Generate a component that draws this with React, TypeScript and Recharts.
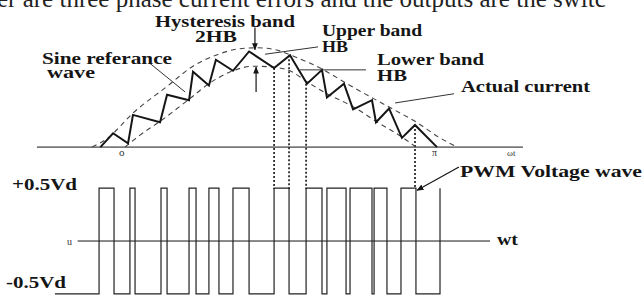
import { ComposedChart, Line, XAxis, YAxis, ReferenceLine } from 'recharts';

// x: electrical angle wt in degrees (0 .. 180 = 0 .. pi)
// top panel: load current (per unit), bottom panel: phase voltage (Vd units)

// actual current, zig-zag vertices [wt, i]
const currentPts: [number, number][] = [
    [1, 0], [7.7, 0.15], [15.6, 0.04], [18.2, 0.35], [32.5, 0.27], [36.2, 0.57],
    [47.8, 0.51], [49.9, 0.82], [58.3, 0.67], [62.0, 0.95], [71.0, 0.83], [79.5, 1.04],
    [92.7, 0.86], [101.1, 1.0], [110.1, 0.69], [118.0, 0.84], [120.6, 0.54], [129.6, 0.69],
    [134.4, 0.41], [144.4, 0.51], [146.5, 0.27], [153.4, 0.42], [160.2, 0.1], [167.1, 0.24],
    [178.7, 0],
];

// hysteresis band edges (sine reference +/- HB)
const upperBandPts: [number, number][] = [
    [-3.4, 0], [5.0, 0.1], [18.2, 0.37], [36.2, 0.66], [49.9, 0.88], [62.0, 1.0],
    [74.7, 1.07], [84.2, 1.08], [93.2, 1.06], [102.7, 0.99], [117.0, 0.86], [132.8, 0.67],
    [145.0, 0.53], [156.6, 0.4], [167.1, 0.28], [180.3, 0.1], [189.3, 0],
];
const lowerBandPts: [number, number][] = [
    [14.0, 0], [21.9, 0.13], [32.5, 0.28], [47.8, 0.52], [58.3, 0.69], [71.0, 0.83],
    [81.6, 0.88], [92.1, 0.87], [101.1, 0.83], [110.1, 0.71], [120.6, 0.58], [134.4, 0.44],
    [146.5, 0.28], [160.2, 0.11], [167.6, 0],
];

// PWM pulses: [switch on, switch off] in wt
const pwmStart = -23;
const pwmPulses: [number, number][] = [
    [0.3, 8.2], [16.6, 19.3], [33.0, 36.2], [47.8, 51.5], [58.3, 63.6], [71.0, 79.5],
    [92.7, 100.6], [109.6, 118.0], [120.6, 130.7], [132.8, 144.4], [145.5, 152.3], [159.7, 167.6],
];
const pwmLastRise = 180.3;

// dotted switching instants dropped from the current to the PWM wave
const dropLines: [number, number][] = [[92.7, 0.86], [100.6, 1.0], [109.6, 0.69], [167.1, 0.24]];
const PWM_TOP_ON_I = -0.456;

const currentData = currentPts.map(([t, i]) => ({ t, i }));
const upperData = upperBandPts.map(([t, i]) => ({ t, i }));
const lowerData = lowerBandPts.map(([t, i]) => ({ t, i }));
const pwmData = [{ t: pwmStart, v: -0.5 }];
pwmPulses.forEach(([on, off]) => {
    pwmData.push({ t: on, v: 0.5 });
    pwmData.push({ t: off, v: -0.5 });
});
pwmData.push({ t: pwmLastRise, v: 0.5 });

const INK = '#151515';
const FONT = '"Liberation Serif", "Times New Roman", serif';

const arrowShape = (p: any) => (
    <line x1={p.x1} y1={p.y1} x2={p.x2} y2={p.y2} stroke={INK} strokeWidth={1.2} markerEnd="url(#arrowHead)" />
);

const labels = [
    { text: 'Hysteresis band', x: 155, y: 27, w: 140 },
    { text: '2HB', x: 195, y: 42, w: 42 },
    { text: 'Upper band', x: 322, y: 36, w: 100 },
    { text: 'HB', x: 322, y: 52, w: 26 },
    { text: 'Lower band', x: 377, y: 65, w: 107 },
    { text: 'HB', x: 377, y: 81, w: 30 },
    { text: 'Actual current', x: 461, y: 92, w: 129 },
    { text: 'Sine referance', x: 42, y: 64, w: 130 },
    { text: 'wave', x: 47, y: 78, w: 48 },
    { text: 'PWM Voltage wave', x: 460, y: 177, w: 182 },
    { text: '+0.5Vd', x: 12, y: 190, w: 65 },
    { text: '-0.5Vd', x: 6, y: 288, w: 60 },
    { text: 'wt', x: 497, y: 245, w: 21 },
];

const smallLabels = [
    { text: 'o', x: 119, y: 156, size: 11 },
    { text: 'π', x: 432, y: 156, size: 10 },
    { text: 'ωt', x: 507, y: 156, size: 9 },
    { text: 'u', x: 67, y: 245, size: 10 },
];

export default function App() {
    return (
        <div style={{ position: 'fixed', left: 0, top: 0, width: 644, height: 296, background: '#fff', overflow: 'hidden' }}>
            <ComposedChart width={644} height={296} margin={{ top: 0, right: 0, bottom: 0, left: 0 }}>
                <XAxis type="number" dataKey="t" domain={[-52, 288]} hide allowDataOverflow />
                <YAxis yAxisId="i" type="number" domain={[-1.62, 1.6]} hide allowDataOverflow />
                <YAxis yAxisId="v" type="number" domain={[-0.52, 2.28]} hide allowDataOverflow />

                <ReferenceLine yAxisId="i" segment={[{ x: -32.5, y: 0 }, { x: 224.1, y: 0 }]} stroke={INK} strokeWidth={1} />
                <ReferenceLine yAxisId="v" segment={[{ x: -11, y: 0 }, { x: 206.7, y: 0 }]} stroke={INK} strokeWidth={1} />

                {dropLines.map(([t, top], k) => (
                    <ReferenceLine key={k} yAxisId="i" segment={[{ x: t, y: top }, { x: t, y: PWM_TOP_ON_I }]}
                        stroke={INK} strokeWidth={1.6} strokeDasharray="2 2" />
                ))}

                <Line data={upperData} dataKey="i" yAxisId="i" type="monotone" stroke="#444" strokeWidth={1.1}
                    strokeDasharray="5 4" dot={false} activeDot={false} isAnimationActive={false} />
                <Line data={lowerData} dataKey="i" yAxisId="i" type="monotone" stroke="#444" strokeWidth={1.1}
                    strokeDasharray="5 4" dot={false} activeDot={false} isAnimationActive={false} />
                <Line data={currentData} dataKey="i" yAxisId="i" type="linear" stroke={INK} strokeWidth={2}
                    dot={false} activeDot={false} isAnimationActive={false} />
                <Line data={pwmData} dataKey="v" yAxisId="v" type="stepAfter" stroke="#222" strokeWidth={1.2}
                    dot={false} activeDot={false} isAnimationActive={false} />

                {/* pointer lines of the annotations */}
                <ReferenceLine yAxisId="i" segment={[{ x: 27.2, y: 0.91 }, { x: 45.7, y: 0.6 }]} stroke="#333" />
                <ReferenceLine yAxisId="i" segment={[{ x: 115.9, y: 1.09 }, { x: 87.9, y: 1.01 }]} stroke="#333" />
                <ReferenceLine yAxisId="i" segment={[{ x: 141.2, y: 0.84 }, { x: 106.4, y: 0.84 }]} stroke="#333" />
                <ReferenceLine yAxisId="i" segment={[{ x: 187.7, y: 0.58 }, { x: 156.6, y: 0.48 }]} stroke="#333" />
                <ReferenceLine yAxisId="i" segment={[{ x: 82.6, y: 1.3 }, { x: 82.6, y: 1.06 }]} shape={arrowShape} />
                <ReferenceLine yAxisId="i" segment={[{ x: 83.2, y: 0.6 }, { x: 83.2, y: 0.87 }]} shape={arrowShape} />
                <ReferenceLine yAxisId="v" segment={[{ x: 190.3, y: 0.7 }, { x: 168.2, y: 0.48 }]} shape={arrowShape} />
            </ComposedChart>

            <svg width={644} height={296} style={{ position: 'absolute', left: 0, top: 0, pointerEvents: 'none' }}>
                <defs>
                    <marker id="arrowHead" viewBox="0 0 10 10" refX="9" refY="5" markerWidth="6" markerHeight="6" orient="auto">
                        <path d="M0,1 L10,5 L0,9 z" fill={INK} />
                    </marker>
                </defs>
                <text x={-3} y={7} fontFamily={FONT} fontSize={25} fill="#222">
                    er are three phase current errors and the outputs are the switc
                </text>
                {labels.map((l, k) => (
                    <text key={k} x={l.x} y={l.y} fontFamily={FONT} fontWeight="bold" fontSize={16} fill={INK}
                        textLength={l.w} lengthAdjust="spacingAndGlyphs">
                        {l.text}
                    </text>
                ))}
                {smallLabels.map((l, k) => (
                    <text key={k} x={l.x} y={l.y} fontFamily={FONT} fontSize={l.size} fill="#333">
                        {l.text}
                    </text>
                ))}
            </svg>
        </div>
    );
}
